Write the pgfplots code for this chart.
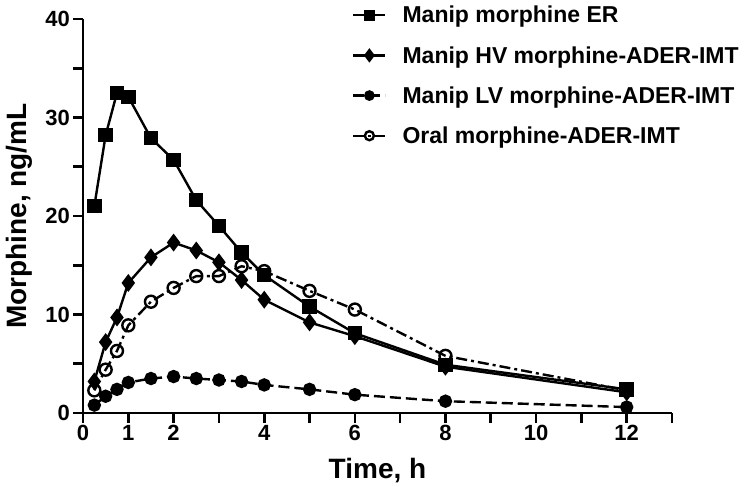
\documentclass[border=0pt]{standalone}
\usepackage{fontspec}
\setmainfont{Liberation Sans}
\usepackage{pgfplots}
\pgfplotsset{compat=1.18}
\begin{document}
\begin{tikzpicture}
\begin{axis}[
  scale only axis, width=589bp, height=394bp,
  xmin=0, xmax=13, ymin=0, ymax=40,
  axis lines=left,
  axis line style={line width=2.8bp, -},
  xtick={0,1,2,4,6,8,10,12}, minor xtick={3,5,7,9,11,13},
  xticklabels={0,1,2,4,6,8,10,12},
  ytick={0,10,20,30,40}, minor ytick={5,15,25,35},
  yticklabels={0,10,20,30,40},
  tick align=outside, major tick length=10bp, minor tick length=10bp,
  tick style={line width=2.6bp, black},
  tick label style={font=\fontsize{22bp}{24bp}\selectfont\bfseries},
  xticklabel style={inner sep=2bp},
  yticklabel style={inner sep=3bp},
  xlabel={Time, h}, ylabel={Morphine, ng/mL},
  label style={font=\fontsize{28bp}{30bp}\selectfont\bfseries},
  xlabel style={at={(axis description cs:0.5,-0.1675)}, anchor=base},
  ylabel style={at={(axis description cs:-0.0951,0.5)}, anchor=base},
  legend style={draw=none, fill=none, at={(0.4567,1)}, anchor=north west, yshift=15bp,
    font=\fontsize{23bp}{25bp}\selectfont\bfseries, row sep=18bp, inner sep=0pt,
    /tikz/every odd column/.append style={column sep=14bp}},
  legend cell align=left,
  legend image code/.code={\draw[mark repeat=2,mark phase=2,#1,every mark/.append style={scale=0.75}] plot coordinates {(0bp,0bp) (16bp,0bp) (32bp,0bp)};},
  every axis plot/.append style={line width=2.4bp, black},
]
\coordinate (bl) at (rel axis cs:0,0);
\addplot[solid, mark=square*, mark size=6bp] coordinates {
(0.25,21.0) (0.5,28.2) (0.75,32.5) (1,32.1) (1.5,27.9) (2,25.7) (2.5,21.6) (3,19.0) (3.5,16.3) (4,14.0) (5,10.8) (6,8.1) (8,4.9) (12,2.4)};
\addlegendentry{Manip morphine ER}
\addplot[solid, mark=diamond*, mark size=7bp] coordinates {
(0.25,3.2) (0.5,7.2) (0.75,9.7) (1,13.2) (1.5,15.8) (2,17.3) (2.5,16.5) (3,15.3) (3.5,13.5) (4,11.5) (5,9.2) (6,7.8) (8,4.7) (12,2.1)};
\addlegendentry{Manip HV morphine-ADER-IMT}
\addplot[dash pattern=on 11bp off 5bp, mark=*, mark size=5.5bp, mark options={solid}] coordinates {
(0.25,0.8) (0.5,1.7) (0.75,2.4) (1,3.1) (1.5,3.5) (2,3.7) (2.5,3.5) (3,3.35) (3.5,3.2) (4,2.85) (5,2.4) (6,1.86) (8,1.2) (12,0.6)};
\addlegendentry{Manip LV morphine-ADER-IMT}
\addplot[dash pattern=on 11bp off 4bp on 3bp off 4bp, mark=o, mark size=6bp, mark options={solid}] coordinates {
(0.25,2.3) (0.5,4.4) (0.75,6.3) (1,8.9) (1.5,11.3) (2,12.7) (2.5,13.9) (3,13.9) (3.5,14.9) (4,14.4) (5,12.4) (6,10.5) (8,5.8) (12,2.3)};
\addlegendentry{Oral morphine-ADER-IMT}
\end{axis}
\pgfresetboundingbox
\path ([shift={(-83bp,-74bp)}]bl) rectangle ([shift={(672bp,413bp)}]bl);
\end{tikzpicture}
\end{document}
